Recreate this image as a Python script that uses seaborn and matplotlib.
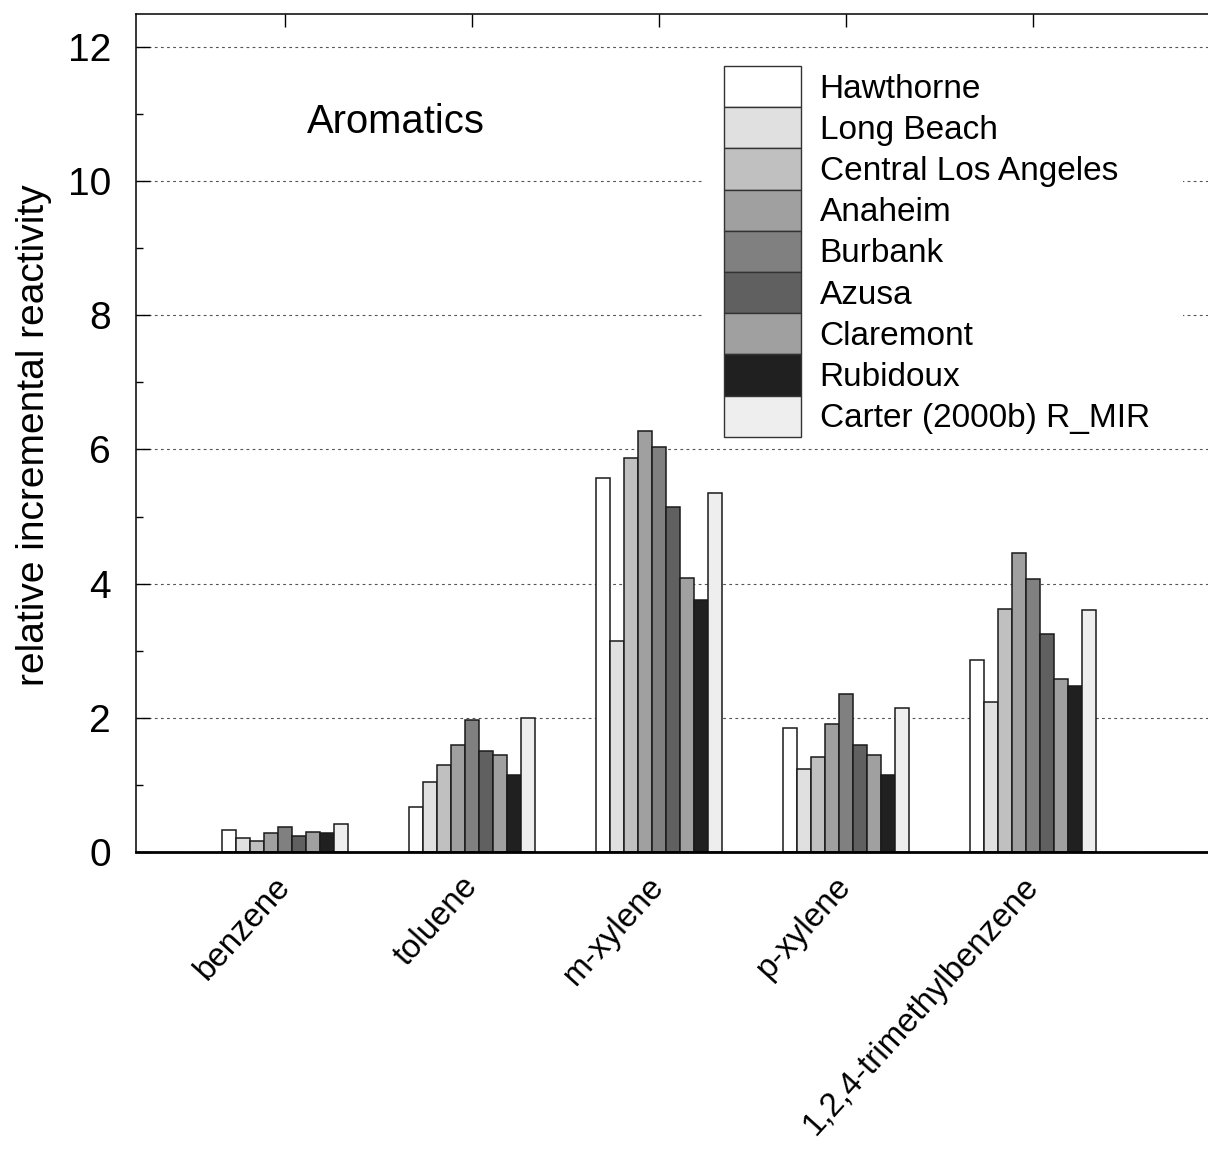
import matplotlib
matplotlib.use("Agg")
import matplotlib.pyplot as plt
from matplotlib.patches import Patch, Rectangle
from matplotlib.ticker import MultipleLocator
import seaborn as sns
import pandas as pd

# Compounds on the x axis
compounds = ["benzene", "toluene", "m-xylene", "p-xylene", "1,2,4-trimethylbenzene"]

# Sites / reference scale (hue levels, in legend order)
sites = ["Hawthorne", "Long Beach", "Central Los Angeles", "Anaheim", "Burbank",
         "Azusa", "Claremont", "Rubidoux", "Carter (2000b) R_MIR"]

# Relative incremental reactivity per site, one value per compound
hawthorne = [0.33, 0.67, 5.57, 1.85, 2.86]
long_beach = [0.21, 1.05, 3.15, 1.23, 2.23]
central_la = [0.17, 1.30, 5.87, 1.42, 3.62]
anaheim = [0.28, 1.59, 6.28, 1.91, 4.46]
burbank = [0.38, 1.96, 6.04, 2.35, 4.07]
azusa = [0.24, 1.51, 5.14, 1.60, 3.25]
claremont = [0.30, 1.44, 4.09, 1.44, 2.58]
rubidoux = [0.28, 1.15, 3.75, 1.15, 2.47]
carter_mir = [0.41, 1.99, 5.35, 2.14, 3.61]

site_values = [hawthorne, long_beach, central_la, anaheim, burbank,
               azusa, claremont, rubidoux, carter_mir]

# Grey fill for each hue level
fills = ["#ffffff", "#e0e0e0", "#c0c0c0", "#a0a0a0", "#808080",
         "#606060", "#a0a0a0", "#202020", "#eeeeee"]

rows = []
for site, vals in zip(sites, site_values):
    for comp, v in zip(compounds, vals):
        rows.append({"compound": comp, "site": site, "value": v})
df = pd.DataFrame(rows)

sns.set_style("ticks")
plt.rcParams["font.family"] = ["Liberation Sans", "DejaVu Sans"]
plt.rcParams["text.color"] = "black"
plt.rcParams["axes.labelcolor"] = "black"
plt.rcParams["xtick.color"] = "black"
plt.rcParams["ytick.color"] = "black"

W, H = 1208, 1150
fig = plt.figure(figsize=(W / 100, H / 100), dpi=100)
ax = fig.add_axes([136 / W, (H - 852) / H, (1215 - 136) / W, (852 - 14) / H])

sns.barplot(data=df, x="compound", y="value", hue="site", order=compounds,
            hue_order=sites, palette=fills, width=0.674, gap=0,
            errorbar=None, edgecolor="#1a1a1a", linewidth=1.1,
            legend=False, ax=ax, zorder=2)

ax.set_xlim(-0.797, 4.973)
ax.set_ylim(0, 12.49)

# Dashed grid at the major y ticks, kept behind the bars
ax.yaxis.set_major_locator(MultipleLocator(2))
ax.yaxis.set_minor_locator(MultipleLocator(1))
ax.set_axisbelow(True)
ax.grid(axis="y", which="major", color="#555555", linewidth=0.8,
        linestyle=(0, (2.5, 3.0)))
ax.grid(axis="x", visible=False)

for side in ["left", "top"]:
    ax.spines[side].set_linewidth(1.1)
    ax.spines[side].set_color("black")
ax.spines["bottom"].set_linewidth(2.0)
ax.spines["bottom"].set_color("black")
ax.spines["right"].set_visible(False)

ax.tick_params(axis="y", which="major", direction="in", length=10, width=1.0,
               labelsize=28, pad=18, left=True, right=False)
ax.tick_params(axis="y", which="minor", direction="in", length=5, width=1.0,
               left=True, right=False)
ax.tick_params(axis="x", which="major", direction="in", length=9, width=1.0,
               top=True, bottom=False, labeltop=False, labelbottom=True, pad=21)
ax.set_xticks(range(len(compounds)))
ax.set_xticklabels(compounds, rotation=48, ha="right", va="center",
                   rotation_mode="anchor", fontsize=23.8)

ax.set_xlabel("")
ax.set_ylabel("relative incremental reactivity", fontsize=28)
ax.yaxis.set_label_coords(-0.078, 0.4976)

ax.text(0.1585, 0.858, "Aromatics", transform=ax.transAxes, fontsize=28.8,
        ha="left", va="baseline")

# Opaque key background over the grid
ax.add_patch(Rectangle((703 / W, (H - 447) / H), 480 / W, 395 / H,
                       transform=fig.transFigure, facecolor="white",
                       edgecolor="none", zorder=1))

handles = [Patch(facecolor=c, edgecolor="#333333", linewidth=1.0) for c in fills]
ax.legend(handles, sites, loc="upper left", bbox_to_anchor=(724 / W, 1 - 66 / H),
          bbox_transform=fig.transFigure, frameon=False, fontsize=24,
          borderpad=0, borderaxespad=0, labelspacing=0, handlelength=2.31,
          handleheight=1.525, handletextpad=0.56)

fig.savefig("out.png", dpi=100)
